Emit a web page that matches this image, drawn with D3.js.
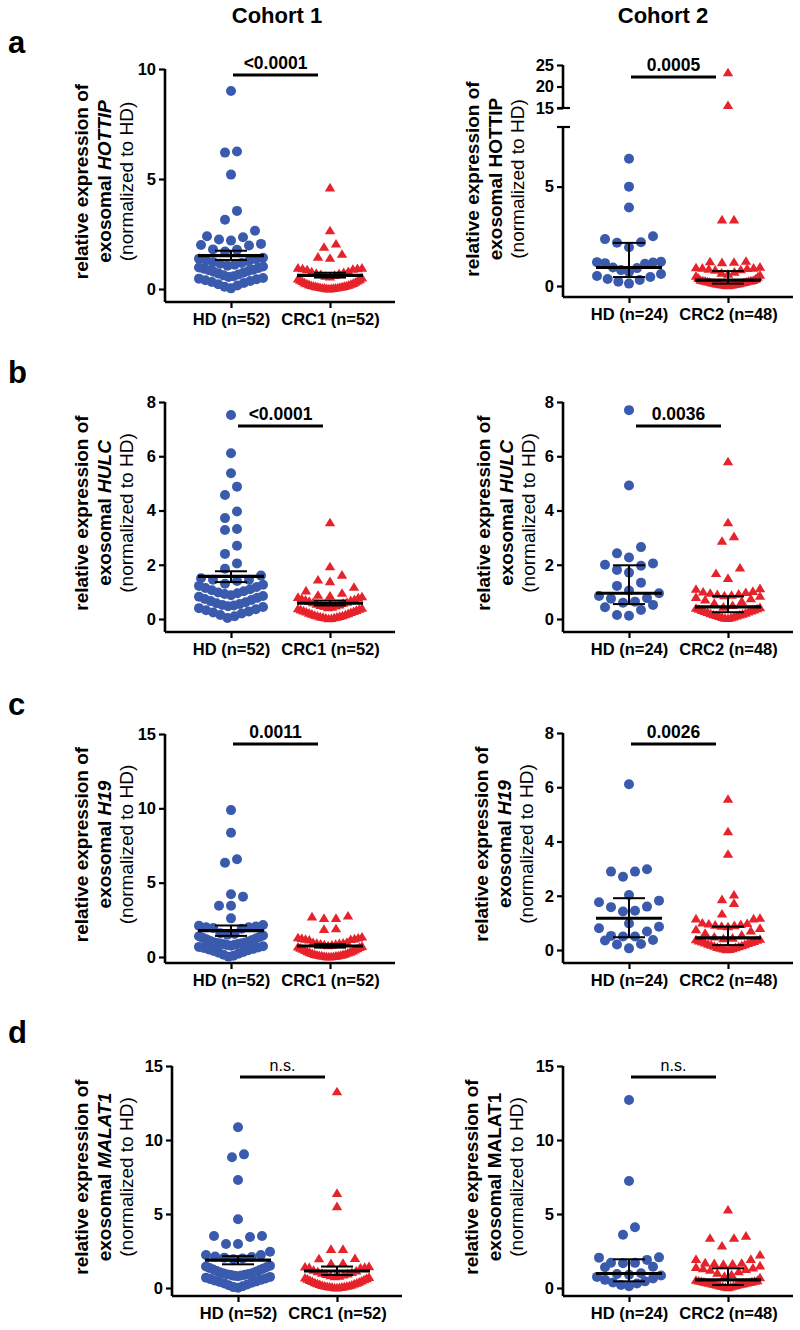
<!DOCTYPE html>
<html>
<head>
<meta charset="utf-8">
<script src="https://cdn.jsdelivr.net/npm/d3@7"></script>
<style>
  body { margin: 0; background: #fff; }
  svg { display: block; }
  text { font-family: "Liberation Sans", Arial, Helvetica, sans-serif; fill: #000; }
</style>
</head>
<body>
<svg id="fig" width="800" height="1330"></svg>
<script>

// ---- data ----

let cohortTitles = ['Cohort 1', 'Cohort 2'];
let panelLetters = ['a', 'b', 'c', 'd'];
let genes = ['HOTTIP', 'HULC', 'H19', 'MALAT1'];
let groupLabels = [['HD (n=52)', 'CRC1 (n=52)'], ['HD (n=24)', 'CRC2 (n=48)']];
let pValues = [['<0.0001', '0.0005'], ['<0.0001', '0.0036'], ['0.0011', '0.0026'], ['n.s.', 'n.s.']];

let ticksA1 = [0, 5, 10];
let ticksA2low = [0, 5];
let ticksA2high = [15, 20, 25];
let ticksB = [0, 2, 4, 6, 8];
let ticksC1 = [0, 5, 10, 15];
let ticksC2 = [0, 2, 4, 6, 8];
let ticksD = [0, 5, 10, 15];

// a - HOTTIP
let hottipC1HD = [9.0, 6.25, 6.2, 5.2, 3.55, 3.15, 2.65, 2.4, 2.35, 2.25, 2.2, 2.05, 2.0, 1.98, 1.8, 1.78, 1.7,
  1.42, 1.38, 1.35, 1.3, 1.26, 1.22, 1.18, 1.15, 1.1, 1.06, 1.02, 0.98, 0.95, 0.92, 0.88, 0.85, 0.82, 0.78,
  0.74, 0.7, 0.66, 0.62, 0.58, 0.55, 0.5, 0.47, 0.44, 0.4, 0.36, 0.32, 0.27, 0.22, 0.16, 0.1, 0.03];
let hottipC1CRC = [4.6, 2.65, 2.05, 1.9, 1.58, 1.45, 1.4, 0.95, 0.95, 0.93, 0.92, 0.9, 0.88,
  0.8, 0.78, 0.75, 0.72, 0.7, 0.66, 0.62, 0.58, 0.55, 0.5, 0.46, 0.42, 0.4, 0.37, 0.34, 0.31, 0.28, 0.26,
  0.24, 0.22, 0.2, 0.18, 0.16, 0.15, 0.14, 0.12, 0.11, 0.1, 0.09, 0.08, 0.07, 0.06, 0.05, 0.05, 0.04, 0.03,
  0.02, 0.02, 0.01];
let hottipC2HD = [6.4, 5.0, 3.95, 2.5, 2.36, 2.2, 2.18, 1.95, 1.22, 1.2, 1.18, 1.15, 1.12, 0.93, 0.9, 0.8,
  0.7, 0.6, 0.5, 0.45, 0.35, 0.3, 0.22, 0.12];
let hottipC2CRC = [23.2, 15.6, 3.33, 3.33, 1.25, 1.22, 1.2, 1.18, 0.95, 0.92, 0.9, 0.9, 0.88, 0.85, 0.82, 0.8,
  0.7, 0.65, 0.6, 0.55, 0.5, 0.45, 0.4, 0.35,
  0.29, 0.28, 0.27, 0.26, 0.25, 0.24, 0.22, 0.2, 0.19, 0.18, 0.16, 0.15, 0.14, 0.12, 0.11, 0.1, 0.09, 0.08,
  0.07, 0.06, 0.05, 0.04, 0.03, 0.02];

// b - HULC
let hulcC1HD = [7.52, 6.11, 5.37, 4.88, 4.57, 3.96, 3.72, 3.32, 3.28, 2.7, 2.4, 2.05, 1.85, 1.6, 1.5, 1.45, 1.45, 1.4,
  1.3, 1.26, 1.22, 1.18, 1.14, 1.1, 1.06, 1.02, 0.98, 0.95, 0.92, 0.88, 0.85, 0.82, 0.78, 0.74, 0.7, 0.66,
  0.62, 0.58, 0.55, 0.52, 0.5, 0.47, 0.44, 0.4, 0.36, 0.32, 0.28, 0.24, 0.2, 0.15, 0.1, 0.04];
let hulcC1CRC = [3.55, 1.93, 1.62, 1.44, 1.38, 1.17, 1.04, 0.95,
  0.88, 0.85, 0.82, 0.8, 0.78, 0.75, 0.72, 0.7, 0.68, 0.65, 0.62, 0.6, 0.58, 0.55, 0.52, 0.5, 0.48, 0.46,
  0.44, 0.42, 0.4, 0.38, 0.36, 0.34, 0.32, 0.3, 0.28, 0.26, 0.24, 0.22, 0.2, 0.18, 0.16, 0.14, 0.12, 0.11,
  0.1, 0.08, 0.07, 0.06, 0.05, 0.04, 0.02, 0.01];
let hulcC2HD = [7.7, 4.92, 2.65, 2.42, 2.27, 2.05, 2.0, 1.96, 1.81, 1.71, 1.34, 1.22, 1.05, 0.95, 0.85, 0.77,
  0.75, 0.64, 0.6, 0.52, 0.43, 0.33, 0.15, 0.12];
let hulcC2CRC = [5.8, 3.55, 3.04, 2.87, 1.88, 1.68, 1.5, 1.12, 1.1, 1.02, 1.0, 0.98, 0.95, 0.92, 0.9, 0.88, 0.86, 0.84,
  0.8, 0.75, 0.7, 0.65, 0.58, 0.5,
  0.44, 0.42, 0.4, 0.38, 0.36, 0.34, 0.32, 0.3, 0.28, 0.26, 0.24, 0.22, 0.2, 0.18, 0.16, 0.15, 0.13, 0.11,
  0.1, 0.08, 0.06, 0.05, 0.03, 0.02];

// c - H19
let h19C1HD = [9.88, 8.36, 6.57, 6.34, 4.22, 4.06, 3.45, 3.45, 2.6, 2.15, 2.1, 2.05, 2.0, 2.0, 1.95, 1.9,
  1.6, 1.55, 1.5, 1.45, 1.4, 1.35, 1.3, 1.25, 1.2, 1.15, 1.1, 1.05, 1.0, 0.98, 0.95, 0.92, 0.9, 0.88, 0.85,
  0.82, 0.8, 0.76, 0.72, 0.68, 0.64, 0.6, 0.55, 0.5, 0.45, 0.4, 0.34, 0.28, 0.22, 0.15, 0.08, 0.02];
let h19C1CRC = [2.76, 2.7, 2.6, 2.6, 1.9, 1.86, 1.35, 1.3, 1.28, 1.25, 1.22, 1.2, 1.18, 1.15,
  1.0, 0.97, 0.94, 0.92, 0.9, 0.88, 0.85, 0.82, 0.8, 0.76, 0.72, 0.68, 0.64, 0.6, 0.56, 0.52, 0.48, 0.44,
  0.4, 0.36, 0.33, 0.3, 0.27, 0.24, 0.21, 0.18, 0.16, 0.14, 0.12, 0.1, 0.09, 0.08, 0.06, 0.05, 0.04, 0.03,
  0.02, 0.01];
let h19C2HD = [6.11, 2.98, 2.89, 2.89, 2.7, 2.03, 1.82, 1.76, 1.6, 1.58, 1.45, 1.42, 0.98, 0.86, 0.8, 0.68,
  0.52, 0.5, 0.5, 0.37, 0.35, 0.22, 0.2, 0.06];
let h19C2CRC = [5.56, 4.36, 3.53, 2.03, 1.86, 1.72, 1.33, 1.17, 1.15, 1.15, 1.0, 0.98, 0.96, 0.94, 0.92, 0.9, 0.88, 0.86,
  0.8, 0.75, 0.7, 0.62, 0.55, 0.48,
  0.44, 0.42, 0.4, 0.38, 0.36, 0.34, 0.32, 0.3, 0.28, 0.26, 0.24, 0.22, 0.2, 0.18, 0.16, 0.14, 0.12, 0.1,
  0.09, 0.07, 0.05, 0.04, 0.02, 0.01];

// d - MALAT1
let malat1C1HD = [10.86, 9.03, 8.83, 7.3, 4.64, 3.51, 3.51, 3.45, 2.97, 2.97, 2.45, 2.23, 2.23, 2.12, 2.1, 2.05, 2.0, 1.95,
  1.5, 1.45, 1.4, 1.35, 1.3, 1.25, 1.2, 1.15, 1.1, 1.05, 1.0, 0.98, 0.95, 0.92, 0.9, 0.88, 0.85, 0.82, 0.8,
  0.75, 0.7, 0.65, 0.6, 0.55, 0.5, 0.45, 0.4, 0.35, 0.3, 0.24, 0.18, 0.12, 0.06, 0.02];
let malat1C1CRC = [13.26, 6.4, 5.5, 2.61, 2.61, 2.0, 1.98, 1.67, 1.65, 1.45, 1.42, 1.4, 1.38, 1.35,
  1.2, 1.15, 1.1, 1.05, 1.0, 0.96, 0.92, 0.88, 0.84, 0.8, 0.76, 0.72, 0.68, 0.64, 0.6, 0.56, 0.52, 0.48,
  0.44, 0.4, 0.36, 0.33, 0.3, 0.27, 0.24, 0.21, 0.18, 0.16, 0.14, 0.12, 0.1, 0.09, 0.08, 0.06, 0.05, 0.04,
  0.02, 0.01];
let malat1C2HD = [12.7, 7.23, 4.1, 3.6, 2.07, 2.05, 1.9, 1.71, 1.7, 1.68, 1.44, 1.4, 1.0, 0.95, 0.9, 0.85,
  0.75, 0.65, 0.55, 0.45, 0.38, 0.3, 0.2, 0.12];
let malat1C2CRC = [5.27, 3.51, 3.36, 3.36, 2.84, 2.23, 1.94, 1.94, 1.7, 1.68, 1.65, 1.62, 1.6, 1.5, 1.4, 1.35,
  1.3, 1.25, 1.2, 1.1, 1.0, 0.9, 0.8, 0.7,
  0.53, 0.5, 0.48, 0.46, 0.44, 0.42, 0.4, 0.38, 0.36, 0.34, 0.32, 0.3, 0.28, 0.26, 0.24, 0.22, 0.2, 0.18,
  0.15, 0.12, 0.1, 0.08, 0.05, 0.02];

// centre line with error bar [centre, low, high] per group (cohort 1: mean +- SEM, cohort 2: median + IQR)
let hottipC1Stats = [[1.52, 1.32, 1.74], [0.62, 0.52, 0.74]];
let hottipC2Stats = [[0.93, 0.45, 2.17], [0.3, 0.12, 0.75]];
let hulcC1Stats = [[1.57, 1.36, 1.76], [0.58, 0.5, 0.68]];
let hulcC2Stats = [[0.95, 0.55, 1.98], [0.45, 0.25, 0.84]];
let h19C1Stats = [[1.77, 1.42, 2.12], [0.74, 0.63, 0.86]];
let h19C2Stats = [[1.17, 0.47, 1.91], [0.45, 0.18, 0.86]];
let malat1C1Stats = [[1.89, 1.6, 2.15], [1.15, 0.88, 1.45]];
let malat1C2Stats = [[0.98, 0.45, 1.94], [0.55, 0.2, 1.33]];

// ---- panels ----

let blue = '#3a5aad';
let red = '#e6222a';

let panels = [
  { row: 0, col: 0, italic: true, hd: hottipC1HD, crc: hottipC1CRC, stats: hottipC1Stats, ticks: ticksA1, domain: [0, 10],
    ax: 165, yTop: 69, yZero: 289, base: 302, sigY: 75, labX: -84 },
  { row: 0, col: 1, italic: false, hd: hottipC2HD, crc: hottipC2CRC, stats: hottipC2Stats, ticks: ticksA2low, domain: [0, 8],
    ax: 563, yTop: 127, yZero: 286, base: 297, sigY: 77, labX: -91,
    broken: { ticks: ticksA2high, domain: [15, 25], range: [108, 65] } },
  { row: 1, col: 0, italic: true, hd: hulcC1HD, crc: hulcC1CRC, stats: hulcC1Stats, ticks: ticksB, domain: [0, 8],
    ax: 165, yTop: 402, yZero: 619, base: 632, sigY: 426, labX: -84, sigShift: 5 },
  { row: 1, col: 1, italic: true, hd: hulcC2HD, crc: hulcC2CRC, stats: hulcC2Stats, ticks: ticksB, domain: [0, 8],
    ax: 563, yTop: 402, yZero: 619, base: 632, sigY: 426, labX: -80, sigShift: 5 },
  { row: 2, col: 0, italic: true, hd: h19C1HD, crc: h19C1CRC, stats: h19C1Stats, ticks: ticksC1, domain: [0, 15],
    ax: 165, yTop: 734, yZero: 957, base: 963, sigY: 744, labX: -84 },
  { row: 2, col: 1, italic: true, hd: h19C2HD, crc: h19C2CRC, stats: h19C2Stats, ticks: ticksC2, domain: [0, 8],
    ax: 563, yTop: 733, yZero: 950, base: 963, sigY: 744, labX: -82 },
  { row: 3, col: 0, italic: true, hd: malat1C1HD, crc: malat1C1CRC, stats: malat1C1Stats, ticks: ticksD, domain: [0, 15],
    ax: 172, yTop: 1066, yZero: 1288, base: 1296, sigY: 1077, labX: -91 },
  { row: 3, col: 1, italic: false, hd: malat1C2HD, crc: malat1C2CRC, stats: malat1C2Stats, ticks: ticksD, domain: [0, 15],
    ax: 563, yTop: 1066, yZero: 1288, base: 1296, sigY: 1077, labX: -92 }
];

let svg = d3.select('#fig');

// column titles
svg.selectAll('text.cohort')
  .data(cohortTitles)
  .enter()
  .append('text')
  .attr('class', 'cohort')
  .attr('x', function(d, i) { return i == 0 ? 277 : 663; })
  .attr('y', 23)
  .attr('text-anchor', 'middle')
  .style('font-size', '22px')
  .style('font-weight', 'bold')
  .text(function(d) { return d; });

// panel letters
let letterY = [53, 383, 715, 1043];
svg.selectAll('text.letter')
  .data(panelLetters)
  .enter()
  .append('text')
  .attr('class', 'letter')
  .attr('x', 8)
  .attr('y', function(d, i) { return letterY[i]; })
  .style('font-size', '31px')
  .style('font-weight', 'bold')
  .text(function(d) { return d; });

// Prism-like scatter: points in the same row sit side by side, the lowest in the middle
function spread(vals, y, cx) {
  let rowH = 11, step = 12, maxHalf = 32;
  let pts = vals.map(function(v) { return { v: v, py: y(v) }; })
    .sort(function(a, b) { return a.v - b.v; });
  let rows = [];
  pts.forEach(function(p) {
    let last = rows[rows.length - 1];
    if (last && last[0].py - p.py < rowH) last.push(p);
    else rows.push([p]);
  });
  rows.forEach(function(arr) {
    let n = arr.length;
    let s = step;
    if (n > 1 && (n - 1) * s / 2 > maxHalf) s = 2 * maxHalf / (n - 1);
    let slots = d3.range(n).map(function(i) { return (i - (n - 1) / 2) * s; })
      .sort(function(a, b) { return Math.abs(a) - Math.abs(b) || a - b; });
    arr.forEach(function(p, i) { p.px = cx + slots[i]; });
  });
  return pts;
}

let triangle = 'M0,-5L5.2,3.6L-5.2,3.6Z';

panels.forEach(function(p) {
  let g = svg.append('g');
  let lowY = d3.scaleLinear().domain(p.domain).range([p.yZero, p.yTop]);
  let highY = p.broken ? d3.scaleLinear().domain(p.broken.domain).range(p.broken.range) : null;
  let y = function(v) { return (highY && v > p.domain[1]) ? highY(v) : lowY(v); };

  let groups = groupLabels[p.col];
  let x = d3.scalePoint().domain(groups).range([p.ax + 66, p.ax + 165]);

  // y axis
  g.append('g')
    .attr('transform', 'translate(' + p.ax + ',0)')
    .call(d3.axisLeft(lowY).tickValues(p.ticks).tickSize(6).tickPadding(3).tickSizeOuter(0));
  g.append('line')
    .attr('x1', p.ax).attr('x2', p.ax)
    .attr('y1', p.yTop).attr('y2', p.base)
    .attr('stroke', '#000').attr('stroke-width', 2.6);

  if (highY) {
    g.append('g')
      .attr('transform', 'translate(' + p.ax + ',0)')
      .call(d3.axisLeft(highY).tickValues(p.broken.ticks).tickSize(6).tickPadding(3).tickSizeOuter(0));
    g.append('line')
      .attr('x1', p.ax).attr('x2', p.ax)
      .attr('y1', p.broken.range[1]).attr('y2', p.broken.range[0])
      .attr('stroke', '#000').attr('stroke-width', 2.6);
    // caps at the break
    [p.broken.range[0], p.yTop].forEach(function(yy) {
      g.append('line')
        .attr('x1', p.ax - 6).attr('x2', p.ax + 7)
        .attr('y1', yy).attr('y2', yy)
        .attr('stroke', '#000').attr('stroke-width', 2.2);
    });
  }

  // x axis
  g.append('g')
    .attr('transform', 'translate(0,' + p.base + ')')
    .call(d3.axisBottom(x).tickSize(6).tickPadding(5).tickSizeOuter(0));
  g.append('line')
    .attr('x1', p.ax).attr('x2', p.ax + 230)
    .attr('y1', p.base).attr('y2', p.base)
    .attr('stroke', '#000').attr('stroke-width', 2.6);

  g.selectAll('.domain').remove();
  g.selectAll('.tick line').attr('stroke', '#000').attr('stroke-width', 2.2);
  g.selectAll('.tick text')
    .style('font-family', '"Liberation Sans", Arial, sans-serif')
    .style('font-size', '16.5px')
    .style('font-weight', 'bold')
    .attr('fill', '#000');

  // y label
  let cy = (p.yTop + p.base) / 2 - 4;
  if (p.broken) cy = (p.broken.range[1] + p.base) / 2 - 2;
  let lab = g.append('g')
    .attr('transform', 'translate(' + (p.ax + p.labX) + ',' + cy + ') rotate(-90)');
  lab.append('text')
    .attr('text-anchor', 'middle').attr('dy', '0.35em')
    .style('font-size', '19px').style('font-weight', 'bold')
    .text('relative expression of');
  let l2 = lab.append('text')
    .attr('y', 23)
    .attr('text-anchor', 'middle').attr('dy', '0.35em')
    .style('font-size', '19px').style('font-weight', 'bold');
  l2.append('tspan').text('exosomal ');
  l2.append('tspan').style('font-style', p.italic ? 'italic' : 'normal').text(genes[p.row]);
  lab.append('text')
    .attr('y', 45)
    .attr('text-anchor', 'middle').attr('dy', '0.35em')
    .style('font-size', '19px')
    .text('(normalized to HD)');

  // points
  g.selectAll('circle.hd')
    .data(spread(p.hd, y, x(groups[0])))
    .enter()
    .append('circle')
    .attr('class', 'hd')
    .attr('cx', function(d) { return d.px; })
    .attr('cy', function(d) { return d.py; })
    .attr('r', 5)
    .attr('fill', blue);

  g.selectAll('path.crc')
    .data(spread(p.crc, y, x(groups[1])))
    .enter()
    .append('path')
    .attr('class', 'crc')
    .attr('d', triangle)
    .attr('transform', function(d) { return 'translate(' + d.px + ',' + d.py + ')'; })
    .attr('fill', red);

  // centre line and error bars
  p.stats.forEach(function(s, i) {
    let cx = x(groups[i]);
    g.append('line')
      .attr('x1', cx).attr('x2', cx)
      .attr('y1', y(s[1])).attr('y2', y(s[2]))
      .attr('stroke', '#000').attr('stroke-width', 2);
    [s[1], s[2]].forEach(function(v) {
      g.append('line')
        .attr('x1', cx - 16).attr('x2', cx + 16)
        .attr('y1', y(v)).attr('y2', y(v))
        .attr('stroke', '#000').attr('stroke-width', 2);
    });
    g.append('line')
      .attr('x1', cx - 33).attr('x2', cx + 33)
      .attr('y1', y(s[0])).attr('y2', y(s[0]))
      .attr('stroke', '#000').attr('stroke-width', 3.2);
  });

  // significance bar
  let shift = p.sigShift || 0;
  let x1 = x(groups[0]) + 2 + shift, x2 = x(groups[1]) - 12 + shift;
  g.append('line')
    .attr('x1', x1).attr('x2', x2)
    .attr('y1', p.sigY).attr('y2', p.sigY)
    .attr('stroke', '#000').attr('stroke-width', 3);
  let pv = pValues[p.row][p.col];
  g.append('text')
    .attr('x', (x1 + x2) / 2)
    .attr('y', p.sigY - 6)
    .attr('text-anchor', 'middle')
    .style('font-size', pv == 'n.s.' ? '16px' : '17.5px')
    .style('font-weight', pv == 'n.s.' ? 'normal' : 'bold')
    .text(pv);
});

</script>
</body>
</html>
